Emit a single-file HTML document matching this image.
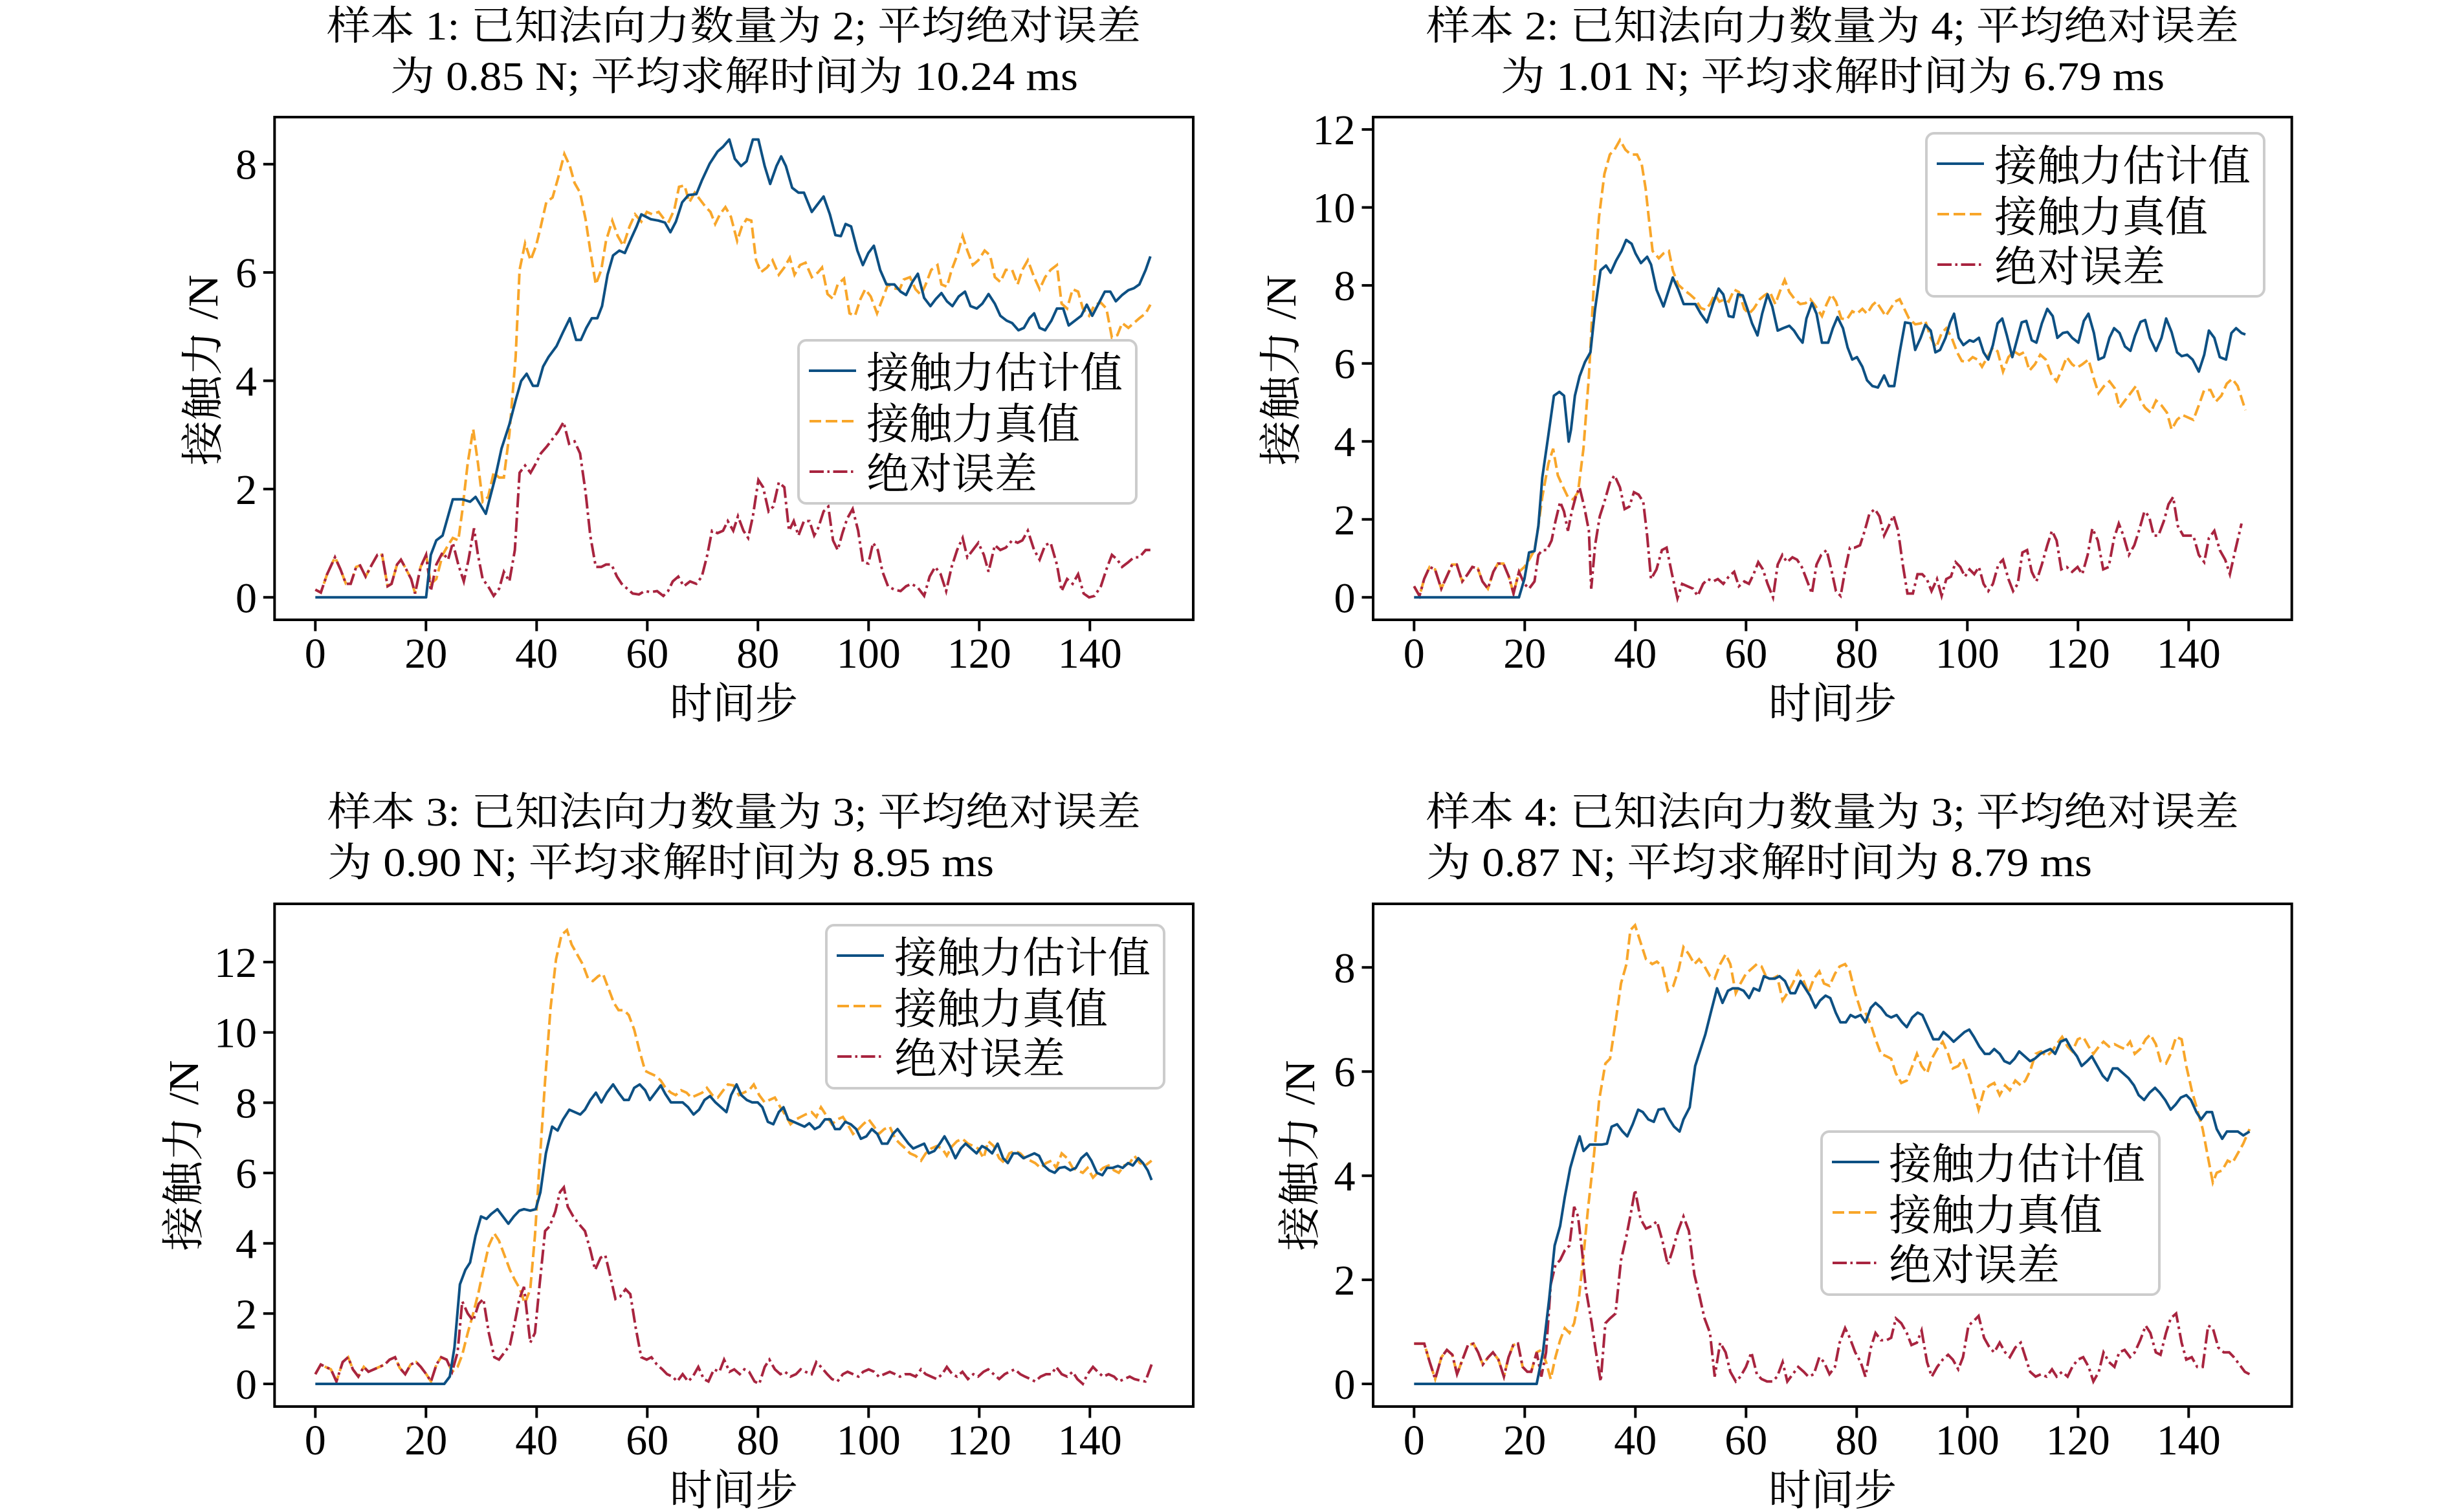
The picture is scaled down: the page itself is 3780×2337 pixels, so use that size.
<!DOCTYPE html>
<html><head><meta charset="utf-8">
<style>
html,body{margin:0;padding:0;background:#fff;}
svg{display:block;}
text{font-family:"Liberation Serif","Noto Serif CJK SC",serif;fill:#000;}
.tk{font-size:66px;}
.lg{font-size:66px;}
.tt{font-size:62px;}
.ax{font-size:66px;}
.b{fill:none;stroke:#0d5083;stroke-width:4;stroke-linejoin:round;}
.o{fill:none;stroke:#f8a62a;stroke-width:4;stroke-dasharray:17 7;}
.r{fill:none;stroke:#a8243f;stroke-width:4;stroke-dasharray:22 6 4 6;}
.sp{fill:none;stroke:#000;stroke-width:4;}
.tick{stroke:#000;stroke-width:4;}
.leg{fill:#fff;fill-opacity:0.8;stroke:#cccccc;stroke-width:4;}
</style></head>
<body>
<svg width="3780" height="2337" viewBox="0 0 3780 2337" xmlns="http://www.w3.org/2000/svg">
<rect x="0" y="0" width="3780" height="2337" fill="#fff"/>

<!-- ================= PANEL 1 ================= -->
<g transform="matrix(1.214,0,0,0.7465,-1.94,-0.87)">
<polyline vector-effect="non-scaling-stroke" class="o" points="403,1222 410,1228 418,1190 428,1155 435,1180 442,1210 448,1210 455,1175 460,1172 467,1195 475,1170 482,1150 488,1150 495,1215 500,1210 507,1170 512,1160 518,1178 525,1200 530,1230 537,1175 544,1150 550,1210 557,1200 565,1150 572,1130 578,1115 585,1120 590,1060 597,960 604,890 610,960 616,1040 623,1030 630,980 637,990 643,990 650,900 658,740 663,560 670,505 677,540 684,510 690,470 697,420 705,410 712,370 720,320 727,345 733,380 740,400 747,455 753,520 760,590 767,560 773,500 781,458 788,490 795,510 803,470 810,445 818,460 825,440 832,445 840,440 847,455 853,460 860,435 866,388 873,385 879,420 886,400 893,415 900,430 906,440 912,465 918,445 925,430 932,450 940,500 946,470 952,455 958,458 964,540 970,565 978,555 985,540 993,570 1000,555 1007,535 1013,570 1020,550 1027,545 1035,575 1043,565 1048,555 1055,610 1062,620 1068,590 1076,578 1083,650 1090,655 1097,620 1103,600 1110,615 1118,650 1125,620 1132,590 1139,598 1147,600 1152,580 1160,575 1167,600 1174,612 1180,590 1187,560 1195,550 1200,590 1207,595 1213,560 1220,530 1227,490 1233,520 1240,550 1247,540 1255,520 1262,530 1268,575 1275,585 1282,560 1290,560 1297,590 1303,560 1310,540 1318,575 1325,600 1332,575 1339,560 1347,550 1353,630 1360,640 1367,600 1374,605 1380,640 1388,655 1395,632 1403,628 1410,640 1417,700 1424,695 1430,670 1438,680 1445,670 1452,660 1460,650 1466,632"/>
<polyline vector-effect="non-scaling-stroke" class="r" points="403,1222 410,1228 418,1190 428,1155 435,1180 442,1210 448,1210 455,1175 460,1172 467,1195 475,1170 482,1150 488,1150 495,1215 500,1210 507,1170 512,1160 518,1178 525,1200 530,1230 537,1175 544,1150 550,1225 557,1170 565,1145 572,1160 578,1125 585,1170 592,1205 598,1160 605,1095 610,1150 616,1200 623,1215 630,1235 637,1220 643,1185 650,1205 657,1140 663,980 670,965 677,980 684,960 690,940 698,925 705,910 712,895 719,875 726,920 733,915 740,940 747,1020 753,1110 760,1175 767,1175 773,1170 780,1170 787,1195 793,1210 800,1220 807,1230 815,1232 822,1225 830,1227 838,1225 846,1235 852,1225 858,1205 865,1195 872,1215 880,1205 888,1210 895,1195 902,1150 908,1100 915,1105 922,1100 928,1080 935,1100 941,1070 948,1100 954,1115 960,1070 967,995 973,1010 980,1060 986,1050 993,1000 1000,1010 1006,1100 1012,1080 1018,1110 1025,1080 1032,1080 1038,1110 1043,1095 1050,1060 1056,1050 1062,1120 1068,1140 1074,1105 1080,1075 1087,1055 1094,1100 1100,1165 1107,1168 1113,1125 1119,1140 1125,1185 1132,1215 1140,1222 1148,1225 1155,1215 1162,1210 1170,1218 1178,1235 1185,1195 1192,1175 1199,1190 1206,1225 1213,1175 1220,1140 1227,1115 1233,1155 1240,1140 1247,1125 1254,1150 1260,1185 1268,1130 1275,1140 1282,1135 1290,1120 1297,1125 1303,1120 1310,1100 1318,1140 1325,1160 1332,1130 1339,1125 1347,1170 1353,1225 1360,1200 1367,1210 1374,1190 1381,1230 1388,1238 1395,1235 1403,1215 1410,1180 1417,1150 1424,1160 1430,1175 1438,1165 1445,1155 1452,1155 1460,1140 1466,1140"/>
<polyline vector-effect="non-scaling-stroke" class="b" points="403,1238 544,1238 550,1150 557,1120 565,1110 578,1035 590,1035 600,1040 607,1030 620,1065 632,990 640,930 650,880 658,830 665,790 672,775 680,800 686,800 693,760 700,740 710,718 718,690 727,660 735,705 741,705 748,680 755,660 762,660 768,635 775,570 782,530 790,520 797,525 805,495 812,470 818,445 824,450 830,455 840,458 848,462 855,482 862,460 870,420 878,405 888,403 895,375 905,340 915,315 922,305 930,290 937,330 945,345 952,335 960,290 967,290 975,345 982,382 990,345 996,325 1002,345 1010,390 1018,400 1025,400 1035,440 1042,425 1050,408 1058,445 1065,488 1072,490 1078,465 1085,470 1093,520 1100,550 1107,525 1114,510 1122,560 1130,590 1140,590 1148,605 1155,612 1163,585 1170,568 1178,618 1186,635 1193,620 1200,608 1207,625 1214,635 1222,615 1230,605 1237,635 1245,640 1252,630 1260,610 1268,630 1275,655 1283,665 1290,670 1298,685 1305,680 1312,660 1318,650 1325,680 1332,685 1340,665 1347,640 1355,640 1362,675 1370,665 1378,655 1385,632 1392,655 1400,630 1408,605 1415,605 1422,625 1430,612 1438,602 1445,598 1452,590 1460,560 1466,532"/>
</g>
<rect class="sp" x="424.3" y="181" width="1419.7" height="777"/>
<g class="tick">
<line x1="406.8" y1="923.3" x2="424.3" y2="923.3"/><line x1="406.8" y1="755.9" x2="424.3" y2="755.9"/><line x1="406.8" y1="588.5" x2="424.3" y2="588.5"/><line x1="406.8" y1="421.1" x2="424.3" y2="421.1"/><line x1="406.8" y1="253.7" x2="424.3" y2="253.7"/>
<line x1="487.3" y1="958" x2="487.3" y2="975.5"/><line x1="658.3" y1="958" x2="658.3" y2="975.5"/><line x1="829.3" y1="958" x2="829.3" y2="975.5"/><line x1="1000.3" y1="958" x2="1000.3" y2="975.5"/><line x1="1171.3" y1="958" x2="1171.3" y2="975.5"/><line x1="1342.3" y1="958" x2="1342.3" y2="975.5"/><line x1="1513.3" y1="958" x2="1513.3" y2="975.5"/><line x1="1684.3" y1="958" x2="1684.3" y2="975.5"/>
</g>
<g class="tk" text-anchor="end">
<text x="397" y="946.3">0</text><text x="397" y="778.9">2</text><text x="397" y="611.5">4</text><text x="397" y="444.1">6</text><text x="397" y="276.7">8</text>
</g>
<g class="tk" text-anchor="middle">
<text x="487.3" y="1032">0</text><text x="658.3" y="1032">20</text><text x="829.3" y="1032">40</text><text x="1000.3" y="1032">60</text><text x="1171.3" y="1032">80</text><text x="1342.3" y="1032">100</text><text x="1513.3" y="1032">120</text><text x="1684.3" y="1032">140</text>
</g>
<rect class="leg" x="1234" y="526" width="522" height="252" rx="12" ry="12"/>
<line x1="1250" y1="573" x2="1323" y2="573" stroke="#0d5083" stroke-width="4"/>
<line x1="1251" y1="651" x2="1323" y2="651" stroke="#f8a62a" stroke-width="4" stroke-dasharray="18 7"/>
<line x1="1251" y1="729" x2="1323" y2="729" stroke="#a8243f" stroke-width="4" stroke-dasharray="22 5.5 3.5 5.5"/>
<g class="lg"><text x="1339" y="599">接触力估计值</text><text x="1339" y="678">接触力真值</text><text x="1339" y="755">绝对误差</text></g>
<text class="tt" x="505" y="61" textLength="1258" lengthAdjust="spacingAndGlyphs">样本 1: 已知法向力数量为 2; 平均绝对误差</text>
<text class="tt" x="603" y="139" textLength="1063" lengthAdjust="spacingAndGlyphs">为 0.85 N; 平均求解时间为 10.24 ms</text>
<text class="ax" x="1134" y="1110" text-anchor="middle">时间步</text>
<text class="ax" transform="translate(336,572) rotate(-90)" text-anchor="middle" textLength="295" lengthAdjust="spacingAndGlyphs">接触力 /N</text>

<!-- ================= PANEL 2 ================= -->
<g transform="matrix(1.2007,0,0,0.7456,1891.1,0.25)">
<polyline vector-effect="non-scaling-stroke" class="o" points="245,1215 252,1235 258,1200 265,1175 272,1180 280,1220 287,1195 294,1170 300,1170 307,1205 314,1190 320,1175 327,1178 333,1205 340,1220 347,1185 353,1168 360,1168 367,1195 373,1230 380,1185 387,1175 393,1160 400,1140 405,1090 410,1030 418,960 424,930 430,985 437,1010 443,1030 450,1035 456,1020 463,930 470,780 476,600 483,450 490,360 497,320 503,310 510,290 517,310 524,320 532,320 538,340 543,390 547,450 552,520 560,535 566,525 573,520 578,560 585,590 592,600 600,610 607,620 614,638 620,642 626,630 632,610 638,625 645,620 650,625 657,600 663,605 670,640 676,650 682,640 690,620 696,612 703,605 710,630 716,603 722,580 728,605 735,620 742,630 749,628 755,620 762,635 770,655 776,630 782,610 788,625 795,660 802,662 809,645 815,650 822,640 828,650 835,632 840,625 846,640 852,655 858,640 864,625 870,620 876,640 882,660 890,672 897,670 903,665 910,700 917,720 924,690 930,680 937,700 944,730 950,748 957,750 964,740 970,745 976,760 983,740 990,720 996,728 1003,770 1010,740 1017,728 1024,735 1030,730 1037,768 1044,755 1051,735 1058,745 1065,775 1072,790 1079,765 1085,740 1092,755 1098,762 1105,755 1113,745 1120,785 1126,815 1133,800 1140,790 1147,805 1153,845 1160,830 1167,815 1174,800 1180,830 1186,845 1193,855 1200,830 1207,840 1214,855 1220,890 1227,870 1234,860 1241,865 1248,870 1255,840 1262,808 1270,808 1277,832 1284,820 1291,795 1298,785 1305,800 1315,850"/>
<polyline vector-effect="non-scaling-stroke" class="r" points="245,1215 252,1235 258,1200 265,1175 272,1180 280,1220 287,1195 294,1170 300,1170 307,1205 314,1190 320,1175 327,1178 333,1205 340,1220 347,1185 353,1168 360,1168 367,1195 373,1230 380,1185 387,1210 393,1220 400,1205 405,1150 410,1140 416,1140 422,1120 427,1080 433,1040 438,1060 443,1100 448,1060 453,1030 458,1010 464,1050 470,1100 473,1220 478,1130 484,1070 490,1040 497,1000 503,985 510,1010 516,1055 522,1050 528,1020 534,1025 540,1040 545,1110 550,1200 557,1180 564,1140 570,1135 577,1190 584,1240 590,1210 597,1215 604,1220 610,1235 617,1210 623,1200 630,1205 636,1200 643,1210 650,1195 657,1185 663,1215 670,1205 676,1210 682,1190 688,1165 694,1180 700,1210 707,1238 713,1170 719,1150 725,1165 732,1155 738,1160 744,1175 750,1200 757,1230 763,1170 769,1150 776,1140 782,1180 788,1225 794,1235 800,1180 806,1135 812,1135 819,1130 825,1100 831,1065 838,1055 844,1070 850,1110 856,1090 862,1068 868,1100 874,1170 880,1230 887,1230 893,1190 899,1190 905,1200 911,1225 918,1200 924,1235 930,1200 936,1195 942,1165 948,1175 954,1195 960,1180 966,1190 972,1175 978,1210 984,1225 990,1210 997,1170 1003,1160 1010,1200 1016,1225 1022,1210 1028,1145 1034,1140 1040,1185 1046,1205 1053,1170 1060,1130 1066,1100 1072,1120 1078,1180 1085,1175 1092,1185 1099,1175 1105,1190 1112,1150 1118,1095 1125,1120 1132,1180 1139,1175 1146,1115 1152,1085 1158,1110 1165,1150 1172,1130 1178,1100 1185,1060 1191,1070 1197,1110 1203,1110 1210,1080 1216,1045 1222,1030 1228,1090 1235,1110 1241,1110 1248,1110 1255,1150 1262,1165 1268,1115 1275,1100 1282,1140 1289,1160 1295,1190 1302,1140 1310,1085"/>
<polyline vector-effect="non-scaling-stroke" class="b" points="245,1238 380,1238 387,1200 393,1145 400,1142 405,1090 410,990 418,900 425,820 432,812 438,820 444,915 447,890 452,820 458,780 465,750 472,730 478,640 485,560 492,550 498,565 505,540 512,520 518,497 525,505 530,525 537,545 545,532 550,548 557,600 566,635 572,605 578,575 585,600 592,630 600,630 607,630 614,650 622,668 630,628 637,598 643,610 650,655 656,657 662,610 668,612 674,640 680,670 687,695 693,650 700,610 706,635 713,685 720,680 728,675 734,685 740,700 745,710 750,660 757,628 763,650 770,710 778,710 784,680 790,657 797,680 803,720 809,745 815,740 822,760 828,788 835,800 842,803 850,778 856,800 863,800 870,730 877,668 884,670 890,725 897,700 903,673 910,685 916,730 922,725 929,700 935,668 940,650 946,700 952,715 960,705 965,708 972,700 978,730 984,745 990,715 996,670 1002,660 1008,695 1015,740 1020,710 1027,668 1033,665 1040,705 1046,710 1053,670 1060,640 1067,655 1073,700 1080,690 1086,688 1092,700 1100,710 1107,665 1113,650 1120,690 1126,745 1133,740 1140,700 1146,680 1153,690 1160,718 1167,727 1173,695 1180,667 1186,663 1192,700 1200,727 1207,700 1213,660 1220,688 1227,730 1233,738 1240,735 1247,745 1255,770 1262,735 1268,685 1275,700 1282,740 1290,745 1297,690 1303,680 1310,690 1315,693"/>
</g>
<rect class="sp" x="2122" y="181" width="1419.7" height="777"/>
<g class="tick">
<line x1="2104.5" y1="923.3" x2="2122" y2="923.3"/><line x1="2104.5" y1="802.8" x2="2122" y2="802.8"/><line x1="2104.5" y1="682.2" x2="2122" y2="682.2"/><line x1="2104.5" y1="561.7" x2="2122" y2="561.7"/><line x1="2104.5" y1="441.1" x2="2122" y2="441.1"/><line x1="2104.5" y1="320.6" x2="2122" y2="320.6"/><line x1="2104.5" y1="200.1" x2="2122" y2="200.1"/>
<line x1="2185.3" y1="958" x2="2185.3" y2="975.5"/><line x1="2356.3" y1="958" x2="2356.3" y2="975.5"/><line x1="2527.3" y1="958" x2="2527.3" y2="975.5"/><line x1="2698.3" y1="958" x2="2698.3" y2="975.5"/><line x1="2869.3" y1="958" x2="2869.3" y2="975.5"/><line x1="3040.3" y1="958" x2="3040.3" y2="975.5"/><line x1="3211.3" y1="958" x2="3211.3" y2="975.5"/><line x1="3382.3" y1="958" x2="3382.3" y2="975.5"/>
</g>
<g class="tk" text-anchor="end">
<text x="2094.5" y="946.3">0</text><text x="2094.5" y="825.8">2</text><text x="2094.5" y="705.2">4</text><text x="2094.5" y="584.7">6</text><text x="2094.5" y="464.1">8</text><text x="2094.5" y="343.6">10</text><text x="2094.5" y="223.1">12</text>
</g>
<g class="tk" text-anchor="middle">
<text x="2185.3" y="1032">0</text><text x="2356.3" y="1032">20</text><text x="2527.3" y="1032">40</text><text x="2698.3" y="1032">60</text><text x="2869.3" y="1032">80</text><text x="3040.3" y="1032">100</text><text x="3211.3" y="1032">120</text><text x="3382.3" y="1032">140</text>
</g>
<rect class="leg" x="2977" y="206" width="522" height="252" rx="12" ry="12"/>
<line x1="2993" y1="253" x2="3066" y2="253" stroke="#0d5083" stroke-width="4"/>
<line x1="2994" y1="331" x2="3066" y2="331" stroke="#f8a62a" stroke-width="4" stroke-dasharray="18 7"/>
<line x1="2994" y1="409" x2="3066" y2="409" stroke="#a8243f" stroke-width="4" stroke-dasharray="22 5.5 3.5 5.5"/>
<g class="lg"><text x="3082" y="279">接触力估计值</text><text x="3082" y="358">接触力真值</text><text x="3082" y="435">绝对误差</text></g>
<text class="tt" x="2204" y="61" textLength="1256" lengthAdjust="spacingAndGlyphs">样本 2: 已知法向力数量为 4; 平均绝对误差</text>
<text class="tt" x="2319" y="139" textLength="1026" lengthAdjust="spacingAndGlyphs">为 1.01 N; 平均求解时间为 6.79 ms</text>
<text class="ax" x="2832" y="1110" text-anchor="middle">时间步</text>
<text class="ax" transform="translate(2002,572) rotate(-90)" text-anchor="middle" textLength="295" lengthAdjust="spacingAndGlyphs">接触力 /N</text>

<!-- ================= PANEL 3 ================= -->
<g transform="matrix(1.2078,0,0,0.7502,-1.86,1160)">
<polyline vector-effect="non-scaling-stroke" class="o" points="405,1285 412,1265 418,1270 425,1275 432,1300 440,1260 447,1250 453,1275 460,1290 467,1270 473,1280 480,1275 487,1270 494,1265 500,1255 507,1250 513,1272 520,1285 527,1265 534,1260 540,1270 547,1285 553,1300 560,1265 566,1250 573,1255 580,1280 587,1270 593,1245 600,1200 607,1160 614,1115 620,1070 627,1020 634,995 640,1010 647,1040 654,1070 660,1090 667,1110 673,1140 680,1110 686,1000 692,850 699,680 706,530 713,430 720,380 727,370 733,400 740,420 747,440 754,470 760,475 767,465 773,460 780,490 787,520 793,535 800,535 806,545 813,575 820,620 827,660 833,665 840,670 847,680 853,695 860,705 866,710 873,700 880,705 886,715 893,710 900,705 906,695 913,710 920,715 927,700 933,688 940,690 947,710 953,705 960,700 966,688 973,710 980,725 986,720 993,715 1000,735 1006,750 1013,770 1020,760 1026,755 1032,750 1040,745 1046,755 1052,735 1060,755 1066,770 1073,760 1080,755 1086,770 1093,790 1100,780 1106,770 1113,760 1120,775 1126,790 1133,780 1140,775 1147,800 1153,810 1160,820 1166,830 1173,835 1180,845 1186,830 1193,820 1200,815 1207,820 1213,835 1220,815 1226,805 1233,800 1240,810 1247,815 1253,820 1260,840 1266,805 1273,815 1280,840 1287,850 1293,830 1300,825 1307,830 1313,840 1320,845 1326,850 1333,860 1340,850 1347,845 1353,860 1360,830 1367,840 1374,860 1380,865 1387,870 1393,860 1400,880 1406,870 1413,860 1420,855 1427,865 1433,870 1440,855 1447,850 1453,835 1460,850 1467,855 1475,845"/>
<polyline vector-effect="non-scaling-stroke" class="r" points="405,1285 412,1265 418,1270 425,1275 432,1300 440,1260 447,1250 453,1275 460,1290 467,1270 473,1280 480,1275 487,1270 494,1265 500,1255 507,1250 513,1272 520,1285 527,1265 534,1260 540,1270 547,1285 553,1300 560,1265 566,1250 573,1255 580,1280 587,1240 593,1135 600,1160 607,1175 614,1140 620,1130 627,1200 634,1250 640,1255 647,1240 654,1225 660,1180 666,1130 672,1105 680,1220 686,1200 692,1100 699,990 705,980 712,950 718,910 723,900 728,940 735,960 742,975 750,990 757,1030 763,1070 770,1045 776,1040 782,1080 789,1130 795,1125 802,1110 808,1120 815,1190 822,1250 829,1255 835,1250 842,1265 849,1275 855,1285 862,1290 868,1300 875,1285 882,1300 888,1290 895,1270 902,1295 908,1300 915,1275 922,1280 928,1255 935,1280 941,1275 948,1285 954,1275 960,1280 967,1300 973,1305 980,1270 986,1255 993,1275 1000,1285 1006,1280 1013,1290 1020,1285 1026,1275 1032,1280 1040,1285 1046,1260 1052,1270 1060,1285 1066,1295 1073,1300 1080,1285 1086,1280 1093,1285 1100,1290 1106,1280 1113,1275 1120,1280 1126,1290 1133,1285 1140,1280 1147,1285 1153,1290 1160,1285 1166,1285 1173,1290 1180,1275 1186,1285 1193,1290 1200,1295 1207,1285 1213,1270 1220,1285 1226,1290 1233,1280 1240,1295 1247,1285 1253,1290 1260,1280 1266,1275 1273,1285 1280,1295 1287,1285 1293,1280 1300,1275 1307,1285 1313,1290 1320,1295 1326,1300 1333,1290 1340,1285 1347,1285 1353,1270 1360,1285 1367,1290 1374,1280 1380,1295 1387,1305 1393,1285 1400,1270 1406,1280 1413,1290 1420,1285 1427,1290 1433,1300 1440,1295 1447,1290 1453,1295 1460,1298 1467,1300 1475,1265"/>
<polyline vector-effect="non-scaling-stroke" class="b" points="405,1305 570,1305 577,1290 583,1230 590,1100 597,1070 603,1055 610,1000 617,960 624,965 630,955 638,945 645,960 652,975 659,960 666,948 672,945 680,948 687,945 693,910 700,830 708,775 715,783 722,760 730,740 737,745 744,750 750,740 757,720 764,705 771,725 778,705 786,688 793,705 800,720 806,720 813,695 820,688 827,700 833,720 840,705 847,690 853,708 860,725 868,725 875,725 882,735 889,750 896,740 903,720 910,712 917,725 924,735 931,745 937,710 944,688 950,710 957,720 964,725 971,725 977,735 984,765 991,770 998,745 1004,735 1010,760 1017,765 1024,770 1031,775 1037,768 1044,780 1050,775 1057,760 1064,760 1070,780 1076,780 1083,765 1090,770 1097,780 1103,800 1110,795 1117,780 1124,790 1130,810 1137,810 1144,790 1150,780 1157,795 1164,810 1170,820 1177,815 1184,810 1190,830 1197,825 1204,810 1210,795 1217,815 1224,840 1231,820 1237,810 1244,820 1251,830 1258,815 1264,820 1271,830 1278,810 1285,840 1291,850 1298,830 1304,830 1311,840 1318,835 1325,830 1331,835 1337,855 1344,865 1351,870 1357,860 1364,858 1371,865 1378,860 1385,840 1392,830 1398,845 1405,870 1412,875 1418,860 1425,860 1432,856 1438,860 1445,850 1451,855 1458,840 1464,850 1470,865 1475,885"/>
</g>
<rect class="sp" x="424.3" y="1397" width="1419.7" height="777"/>
<g class="tick">
<line x1="406.8" y1="2139" x2="424.3" y2="2139"/><line x1="406.8" y1="2030.3" x2="424.3" y2="2030.3"/><line x1="406.8" y1="1921.7" x2="424.3" y2="1921.7"/><line x1="406.8" y1="1813" x2="424.3" y2="1813"/><line x1="406.8" y1="1704.4" x2="424.3" y2="1704.4"/><line x1="406.8" y1="1595.7" x2="424.3" y2="1595.7"/><line x1="406.8" y1="1487" x2="424.3" y2="1487"/>
<line x1="487.3" y1="2174" x2="487.3" y2="2191.5"/><line x1="658.3" y1="2174" x2="658.3" y2="2191.5"/><line x1="829.3" y1="2174" x2="829.3" y2="2191.5"/><line x1="1000.3" y1="2174" x2="1000.3" y2="2191.5"/><line x1="1171.3" y1="2174" x2="1171.3" y2="2191.5"/><line x1="1342.3" y1="2174" x2="1342.3" y2="2191.5"/><line x1="1513.3" y1="2174" x2="1513.3" y2="2191.5"/><line x1="1684.3" y1="2174" x2="1684.3" y2="2191.5"/>
</g>
<g class="tk" text-anchor="end">
<text x="397" y="2162">0</text><text x="397" y="2053.3">2</text><text x="397" y="1944.7">4</text><text x="397" y="1836">6</text><text x="397" y="1727.4">8</text><text x="397" y="1618.7">10</text><text x="397" y="1510">12</text>
</g>
<g class="tk" text-anchor="middle">
<text x="487.3" y="2248">0</text><text x="658.3" y="2248">20</text><text x="829.3" y="2248">40</text><text x="1000.3" y="2248">60</text><text x="1171.3" y="2248">80</text><text x="1342.3" y="2248">100</text><text x="1513.3" y="2248">120</text><text x="1684.3" y="2248">140</text>
</g>
<rect class="leg" x="1277" y="1430" width="522" height="252" rx="12" ry="12"/>
<line x1="1293" y1="1477" x2="1366" y2="1477" stroke="#0d5083" stroke-width="4"/>
<line x1="1294" y1="1555" x2="1366" y2="1555" stroke="#f8a62a" stroke-width="4" stroke-dasharray="18 7"/>
<line x1="1294" y1="1633" x2="1366" y2="1633" stroke="#a8243f" stroke-width="4" stroke-dasharray="22 5.5 3.5 5.5"/>
<g class="lg"><text x="1382" y="1503">接触力估计值</text><text x="1382" y="1582">接触力真值</text><text x="1382" y="1659">绝对误差</text></g>
<text class="tt" x="506" y="1276" textLength="1257" lengthAdjust="spacingAndGlyphs">样本 3: 已知法向力数量为 3; 平均绝对误差</text>
<text class="tt" x="506" y="1354" textLength="1030" lengthAdjust="spacingAndGlyphs">为 0.90 N; 平均求解时间为 8.95 ms</text>
<text class="ax" x="1134" y="2326" text-anchor="middle">时间步</text>
<text class="ax" transform="translate(306,1786) rotate(-90)" text-anchor="middle" textLength="295" lengthAdjust="spacingAndGlyphs">接触力 /N</text>

<!-- ================= PANEL 4 ================= -->
<g transform="matrix(1.2066,0,0,0.7502,1889.7,1160)">
<polyline vector-effect="non-scaling-stroke" class="o" points="245,1222 258,1222 265,1260 272,1295 280,1250 287,1235 294,1245 300,1285 307,1255 314,1225 321,1222 327,1240 333,1265 340,1250 346,1240 353,1255 360,1290 366,1250 372,1225 378,1222 384,1270 390,1280 395,1280 402,1240 408,1235 414,1260 420,1295 426,1250 432,1215 438,1190 444,1200 450,1180 456,1130 462,1040 468,940 475,840 482,720 490,645 496,635 503,560 510,480 517,440 522,370 528,360 535,395 542,430 550,440 556,435 563,445 570,495 577,485 584,450 590,405 597,420 604,440 610,430 617,445 624,465 630,470 637,440 644,420 650,440 657,500 663,480 670,460 677,450 684,440 690,445 697,470 704,470 710,465 717,515 723,500 730,480 737,455 744,475 750,500 757,470 764,455 770,480 777,485 784,460 790,445 797,440 803,455 810,500 817,535 823,540 830,565 836,595 843,625 850,630 856,635 862,665 869,685 876,680 882,655 889,625 895,650 902,665 908,635 915,615 922,600 929,625 935,655 942,650 948,635 955,665 962,705 968,740 975,700 982,690 988,685 995,710 1002,690 1008,700 1015,680 1022,690 1028,680 1034,660 1041,625 1048,620 1055,630 1062,620 1068,605 1075,590 1082,610 1088,620 1095,595 1102,590 1109,610 1115,625 1122,610 1128,600 1135,610 1142,605 1148,610 1155,615 1162,600 1168,625 1175,615 1182,595 1188,585 1195,605 1201,640 1208,645 1214,625 1221,590 1228,595 1234,650 1241,700 1248,740 1255,780 1262,840 1268,890 1273,870 1280,865 1287,845 1293,850 1300,830 1307,810 1315,780"/>
<polyline vector-effect="non-scaling-stroke" class="r" points="245,1222 258,1222 265,1260 272,1295 280,1250 287,1235 294,1245 300,1285 307,1255 314,1225 321,1222 327,1240 333,1265 340,1250 346,1240 353,1255 360,1290 366,1250 372,1225 378,1222 384,1270 390,1280 395,1280 402,1240 408,1290 414,1240 420,1100 426,1060 432,1050 438,1030 444,1020 450,940 455,960 460,1030 465,1110 472,1175 478,1240 484,1300 490,1180 496,1170 503,1160 510,1050 517,1000 523,950 528,905 535,965 542,985 549,980 556,970 563,1010 570,1060 576,1030 583,990 590,960 597,990 604,1080 610,1120 617,1170 624,1200 630,1290 637,1220 644,1240 650,1280 657,1300 663,1290 670,1270 677,1240 684,1285 690,1295 697,1300 704,1300 710,1290 717,1260 723,1300 730,1285 737,1270 744,1280 750,1290 757,1285 764,1250 770,1260 777,1285 784,1270 790,1220 797,1190 803,1210 810,1240 817,1260 823,1290 830,1230 836,1200 843,1215 850,1215 856,1210 862,1170 869,1180 876,1200 882,1225 889,1220 895,1195 902,1260 908,1290 915,1270 922,1255 929,1245 935,1255 942,1275 948,1250 955,1185 962,1175 968,1165 975,1210 982,1230 988,1240 995,1220 1002,1240 1008,1250 1015,1230 1022,1220 1028,1250 1034,1280 1041,1290 1048,1285 1055,1290 1062,1275 1068,1290 1075,1280 1082,1290 1088,1270 1095,1255 1102,1250 1109,1270 1115,1300 1122,1280 1128,1240 1135,1260 1142,1270 1148,1240 1155,1235 1162,1250 1168,1240 1175,1215 1182,1185 1188,1200 1195,1240 1201,1245 1208,1200 1214,1170 1221,1160 1228,1220 1234,1255 1241,1250 1248,1270 1255,1270 1262,1185 1268,1190 1275,1230 1282,1240 1289,1240 1295,1250 1302,1265 1309,1280 1315,1285"/>
<polyline vector-effect="non-scaling-stroke" class="b" points="245,1305 402,1305 410,1240 418,1130 425,1020 432,980 438,920 445,860 452,820 457,795 462,825 470,812 478,812 485,812 492,810 498,775 505,770 512,785 518,795 525,770 532,740 538,745 545,760 552,765 558,740 565,738 572,760 578,775 585,785 590,760 598,735 605,650 612,615 618,585 625,540 633,490 640,520 647,495 653,490 660,490 667,495 674,510 680,490 687,495 693,465 700,470 707,470 713,465 720,475 727,500 733,500 740,475 746,490 752,505 759,530 765,515 772,505 778,510 785,540 791,560 798,560 804,545 810,550 817,545 823,560 830,530 836,520 843,530 850,545 856,550 863,545 870,560 876,570 883,550 890,540 896,545 903,570 910,595 917,595 923,580 930,590 936,600 943,590 950,580 956,575 962,590 969,610 976,625 982,625 988,615 995,625 1001,640 1008,645 1014,635 1020,620 1027,630 1034,640 1040,635 1047,625 1053,620 1060,615 1066,625 1073,600 1080,595 1087,615 1094,630 1100,650 1107,640 1113,630 1120,650 1127,670 1133,680 1140,655 1146,655 1153,665 1160,675 1167,690 1173,710 1180,720 1187,705 1194,695 1200,705 1207,720 1214,740 1220,730 1227,715 1234,710 1240,720 1247,745 1253,760 1260,745 1267,745 1273,780 1280,800 1286,785 1293,785 1300,785 1307,793 1315,785"/>
</g>
<rect class="sp" x="2122" y="1397" width="1419.7" height="777"/>
<g class="tick">
<line x1="2104.5" y1="2139" x2="2122" y2="2139"/><line x1="2104.5" y1="1978.1" x2="2122" y2="1978.1"/><line x1="2104.5" y1="1817.2" x2="2122" y2="1817.2"/><line x1="2104.5" y1="1656.2" x2="2122" y2="1656.2"/><line x1="2104.5" y1="1495.3" x2="2122" y2="1495.3"/>
<line x1="2185.3" y1="2174" x2="2185.3" y2="2191.5"/><line x1="2356.3" y1="2174" x2="2356.3" y2="2191.5"/><line x1="2527.3" y1="2174" x2="2527.3" y2="2191.5"/><line x1="2698.3" y1="2174" x2="2698.3" y2="2191.5"/><line x1="2869.3" y1="2174" x2="2869.3" y2="2191.5"/><line x1="3040.3" y1="2174" x2="3040.3" y2="2191.5"/><line x1="3211.3" y1="2174" x2="3211.3" y2="2191.5"/><line x1="3382.3" y1="2174" x2="3382.3" y2="2191.5"/>
</g>
<g class="tk" text-anchor="end">
<text x="2094.5" y="2162">0</text><text x="2094.5" y="2001.1">2</text><text x="2094.5" y="1840.2">4</text><text x="2094.5" y="1679.2">6</text><text x="2094.5" y="1518.3">8</text>
</g>
<g class="tk" text-anchor="middle">
<text x="2185.3" y="2248">0</text><text x="2356.3" y="2248">20</text><text x="2527.3" y="2248">40</text><text x="2698.3" y="2248">60</text><text x="2869.3" y="2248">80</text><text x="3040.3" y="2248">100</text><text x="3211.3" y="2248">120</text><text x="3382.3" y="2248">140</text>
</g>
<rect class="leg" x="2815" y="1749" width="522" height="252" rx="12" ry="12"/>
<line x1="2831" y1="1796" x2="2904" y2="1796" stroke="#0d5083" stroke-width="4"/>
<line x1="2832" y1="1874" x2="2904" y2="1874" stroke="#f8a62a" stroke-width="4" stroke-dasharray="18 7"/>
<line x1="2832" y1="1952" x2="2904" y2="1952" stroke="#a8243f" stroke-width="4" stroke-dasharray="22 5.5 3.5 5.5"/>
<g class="lg"><text x="2919" y="1822">接触力估计值</text><text x="2919" y="1901">接触力真值</text><text x="2919" y="1978">绝对误差</text></g>
<text class="tt" x="2204" y="1276" textLength="1256" lengthAdjust="spacingAndGlyphs">样本 4: 已知法向力数量为 3; 平均绝对误差</text>
<text class="tt" x="2204" y="1354" textLength="1029" lengthAdjust="spacingAndGlyphs">为 0.87 N; 平均求解时间为 8.79 ms</text>
<text class="ax" x="2832" y="2326" text-anchor="middle">时间步</text>
<text class="ax" transform="translate(2031,1786) rotate(-90)" text-anchor="middle" textLength="295" lengthAdjust="spacingAndGlyphs">接触力 /N</text>
</svg>
</body></html>
